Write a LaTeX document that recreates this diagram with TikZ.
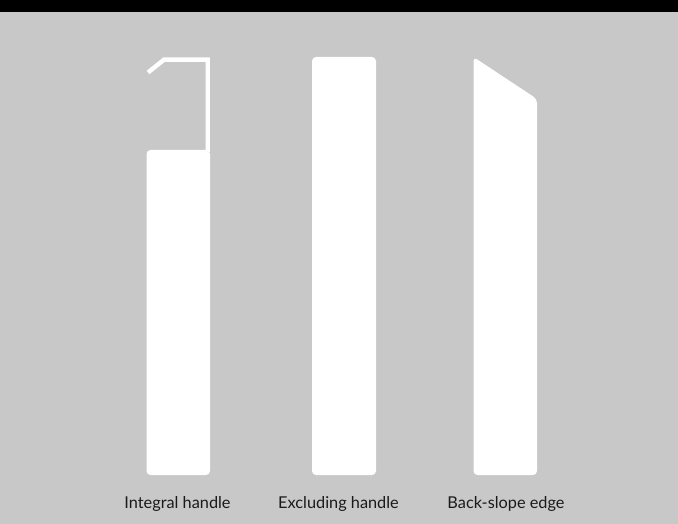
\documentclass[tikz,border=0pt]{standalone}
\usepackage{fontspec}
\setmainfont{Lato}
\definecolor{panelgrey}{HTML}{C8C8C8}
\definecolor{labelink}{HTML}{1A1A1A}
\tikzset{
  blade/.style={fill=white,draw=none,rounded corners=0.1cm},
  hook/.style={draw=white,line width=0.11cm,line join=miter},
  caption/.style={text=labelink,font=\fontsize{11.6}{13}\selectfont,inner sep=0pt,anchor=base}
}
\begin{document}
\begin{tikzpicture}[x=0.025cm,y=-0.025cm]
\useasboundingbox (0,0) rectangle (678,524);
\fill[panelgrey] (0,0) rectangle (678,524);
\fill[black] (0,0) rectangle (678,12);

% integral handle
\draw[hook] (148,72.5) -- (164,59.7) -- (207.7,59.7) -- (207.7,152);
\fill[blade] (146.5,150) -- (210,150) -- (210,475) -- (146.5,475) -- cycle;

% excluding handle
\fill[blade] (312,57) rectangle (376,475);

% back-slope edge
\fill[blade] (473.5,57) -- (537,99) -- (537,475) -- (473.5,475) -- cycle;

\node[caption] (integral) at (177.5,508) {Integral handle};
\node[caption] (excluding) at (338.5,508) {Excluding handle};
\node[caption] (backslope) at (506,508) {Back-slope edge};
\end{tikzpicture}
\end{document}
